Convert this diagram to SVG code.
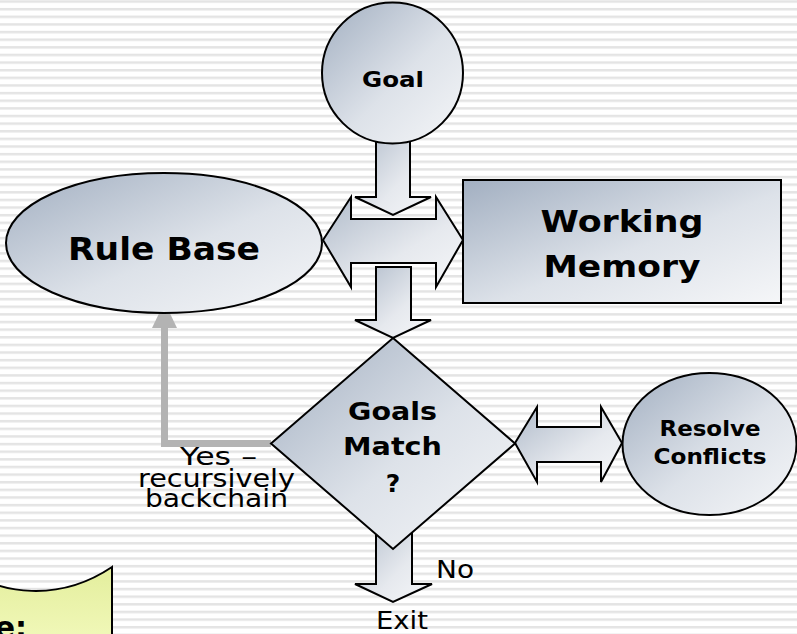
<svg xmlns="http://www.w3.org/2000/svg" width="797" height="634" viewBox="0 0 797 634">
  <defs>
    <!-- ruled paper background -->
    <pattern id="rules" patternUnits="userSpaceOnUse" x="0" y="0.3" width="10" height="7.63">
      <rect x="0" y="0" width="10" height="2.5" fill="#e4e4e4"/>
    </pattern>
    <!-- steel-blue shading used for nodes and block arrows -->
    <linearGradient id="steel" x1="0" y1="0" x2="1" y2="1">
      <stop offset="0" stop-color="#a2afc1"/>
      <stop offset="0.55" stop-color="#dde2e9"/>
      <stop offset="1" stop-color="#f5f6f8"/>
    </linearGradient>
    <linearGradient id="steelArrow" x1="0" y1="0" x2="1" y2="1">
      <stop offset="0" stop-color="#b0bbca"/>
      <stop offset="0.6" stop-color="#e6e9ee"/>
      <stop offset="1" stop-color="#f6f7f9"/>
    </linearGradient>
    <linearGradient id="note" x1="0" y1="0" x2="0" y2="1">
      <stop offset="0" stop-color="#e3ee9c"/>
      <stop offset="1" stop-color="#f1f8b9"/>
    </linearGradient>
  </defs>
  <style>
    .node { fill: url(#steel); stroke: #000; stroke-width: 2; }
    .block { fill: url(#steelArrow); stroke: #000; stroke-width: 2; stroke-linejoin: miter; }
    .bold { font-family: "DejaVu Sans", Verdana, sans-serif; font-weight: bold; fill: #000; text-anchor: middle; }
    .plain { font-family: "DejaVu Sans", Verdana, sans-serif; fill: #000; text-anchor: middle; }
    .feedback { fill: none; stroke: #b3b3b3; stroke-width: 7; }
  </style>

  <rect x="0" y="0" width="797" height="634" fill="#ffffff"/>
  <rect x="0" y="0" width="797" height="634" fill="url(#rules)"/>

  <!-- connectors: block arrows and the feedback path -->
  <g id="connectors">
    <polygon class="block" points="376,132 410,132 410,197 431,197 393,215 355,197 376,197"/>
    <polygon class="block" points="323,240 351,197 351,219 436,219 436,197 463,240 436,287 436,263 351,263 351,287"/>
    <polygon class="block" points="376,267 411,267 411,320 431,320 393,338 355,320 376,320"/>
    <polygon class="block" points="376,520 412,520 412,584 432,584 393,602 355,584 376,584"/>
    <polygon class="block" points="515,443 537,407 537,427 601,427 601,407 622,443 601,482 601,462 537,462 537,482"/>
    <polyline class="feedback" points="271,443.5 164.5,443.5 164.5,325"/>
    <polygon points="164.5,302 152,328 177,328" fill="#b3b3b3"/>
  </g>

  <g id="goal">
    <circle class="node" cx="392.5" cy="73" r="70.5"/>
    <text class="bold" x="393" y="87" font-size="22" textLength="62" lengthAdjust="spacingAndGlyphs">Goal</text>
  </g>

  <g id="rule-base">
    <ellipse class="node" cx="164" cy="243" rx="158" ry="70"/>
    <text class="bold" x="164" y="260" font-size="31.5" textLength="192" lengthAdjust="spacingAndGlyphs">Rule Base</text>
  </g>

  <g id="working-memory">
    <rect class="node" x="463" y="180" width="318" height="123"/>
    <text class="bold" x="622" y="232" font-size="30" textLength="163" lengthAdjust="spacingAndGlyphs">Working</text>
    <text class="bold" x="622" y="277" font-size="30" textLength="157" lengthAdjust="spacingAndGlyphs">Memory</text>
  </g>

  <g id="goals-match">
    <polygon class="node" points="393,338 515,443.5 393,549 271,443.5"/>
    <text class="bold" x="392.5" y="420" font-size="25" textLength="89" lengthAdjust="spacingAndGlyphs">Goals</text>
    <text class="bold" x="392.5" y="455" font-size="25" textLength="99" lengthAdjust="spacingAndGlyphs">Match</text>
    <text class="bold" x="393" y="492" font-size="25">?</text>
  </g>

  <g id="resolve-conflicts">
    <ellipse class="node" cx="709.5" cy="444" rx="87" ry="71"/>
    <text class="bold" x="710" y="436" font-size="22" textLength="101" lengthAdjust="spacingAndGlyphs">Resolve</text>
    <text class="bold" x="710" y="464" font-size="22" textLength="113" lengthAdjust="spacingAndGlyphs">Conflicts</text>
  </g>

  <g id="labels">
    <text class="plain" x="218.5" y="465" font-size="25" textLength="77" lengthAdjust="spacingAndGlyphs">Yes –</text>
    <text class="plain" x="216.5" y="487" font-size="25" textLength="157" lengthAdjust="spacingAndGlyphs">recursively</text>
    <text class="plain" x="216.5" y="507" font-size="25" textLength="143" lengthAdjust="spacingAndGlyphs">backchain</text>
    <text class="plain" x="455" y="578" font-size="25" textLength="38" lengthAdjust="spacingAndGlyphs">No</text>
    <text class="plain" x="402" y="629" font-size="24" textLength="52" lengthAdjust="spacingAndGlyphs">Exit</text>
  </g>

  <g id="note">
    <path d="M -40 566 C 0 596, 60 602, 112 567 L 112 640 L -40 640 Z" fill="url(#note)" stroke="#000" stroke-width="2"/>
    <text class="bold" x="27" y="638" font-size="30" style="text-anchor:end">e:</text>
  </g>
</svg>
